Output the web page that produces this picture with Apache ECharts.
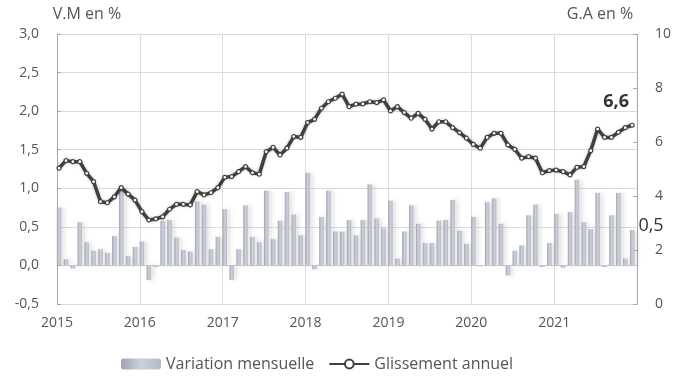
<!DOCTYPE html>
<html>
<head>
<meta charset="utf-8">
<script src="https://cdn.jsdelivr.net/npm/echarts@6/dist/echarts.min.js"></script>
<style>
  html, body { margin: 0; padding: 0; background: #fff; }
  #box { width: 696px; height: 378px; }
</style>
</head>
<body>
<div id="box"></div>
<script>
var chart = echarts.init(document.getElementById('box'));

// years shown on the x axis, 12 months each, Jan 2015 - Dec 2021
var years = ['2015', '2016', '2017', '2018', '2019', '2020', '2021'];

// Variation mensuelle (left axis, %)
var monthly = [
  0.75, 0.08, -0.04, 0.56, 0.30, 0.19, 0.21, 0.16, 0.38, 0.99, 0.12, 0.24,
  0.31, -0.19, -0.02, 0.58, 0.59, 0.36, 0.20, 0.18, 0.83, 0.79, 0.21, 0.37,
  0.73, -0.19, 0.21, 0.78, 0.37, 0.30, 0.97, 0.34, 0.58, 0.95, 0.66, 0.39,
  1.20, -0.05, 0.63, 0.97, 0.44, 0.44, 0.59, 0.39, 0.59, 1.05, 0.61, 0.48,
  0.84, 0.09, 0.44, 0.78, 0.54, 0.29, 0.29, 0.58, 0.59, 0.85, 0.45, 0.28,
  0.63, -0.01, 0.82, 0.87, 0.54, -0.13, 0.19, 0.26, 0.65, 0.79, -0.02, 0.29,
  0.67, -0.03, 0.69, 1.11, 0.56, 0.47, 0.94, -0.02, 0.65, 0.94, 0.09, 0.46
];

// Glissement annuel (right axis, %)
var annual = [
  5.03, 5.31, 5.27, 5.27, 4.84, 4.53, 3.79, 3.75, 3.97, 4.31, 4.07, 3.85,
  3.42, 3.11, 3.15, 3.23, 3.51, 3.69, 3.69, 3.67, 4.16, 4.04, 4.12, 4.31,
  4.69, 4.72, 4.90, 5.09, 4.86, 4.81, 5.64, 5.80, 5.52, 5.77, 6.20, 6.17,
  6.72, 6.84, 7.25, 7.49, 7.62, 7.77, 7.31, 7.40, 7.41, 7.49, 7.46, 7.56,
  7.15, 7.31, 7.09, 6.88, 7.06, 6.84, 6.48, 6.75, 6.75, 6.53, 6.35, 6.14,
  5.91, 5.77, 6.17, 6.32, 6.32, 5.89, 5.73, 5.40, 5.46, 5.40, 4.86, 4.94,
  4.96, 4.90, 4.78, 5.06, 5.09, 5.68, 6.48, 6.17, 6.17, 6.36, 6.53, 6.62
];

var months = years.length * 12;
var fontName = 'Open Sans';

function comma(v) {
  return v.toFixed(1).replace('.', ',');
}

var barData = monthly.map(function(v, i) {
  var item = { value: [i + 0.3, v] };
  if (i === monthly.length - 1) {
    item.label = {
      show: true, position: 'right', distance: 4, offset: [0, -22],
      formatter: function(p) { return comma(p.value[1]); },
      fontFamily: fontName, fontSize: 18, color: '#333'
    };
  }
  return item;
});

var lineData = annual.map(function(v, i) {
  var item = { value: [i + 0.3, v] };
  if (i === annual.length - 1) {
    item.label = {
      show: true, position: 'top', distance: 6, offset: [-16, -6],
      formatter: function(p) { return comma(p.value[1]); },
      fontFamily: fontName, fontSize: 18, fontWeight: 'bold', color: '#333'
    };
  }
  return item;
});

option = {
  animation: false,
  textStyle: { fontFamily: fontName },
  grid: {
    left: 57,
    right: 59,
    top: 34,
    bottom: 74
  },
  legend: {
    left: 116,
    top: 351,
    itemWidth: 40,
    itemHeight: 11,
    itemGap: 14,
    textStyle: { fontFamily: fontName, fontSize: 16, color: '#555' },
    data: ['Variation mensuelle', 'Glissement annuel']
  },
  xAxis: {
    type: 'value',
    min: 0,
    max: months,
    interval: 12,
    axisLine: { show: true, lineStyle: { color: '#cfcfcf' } },
    axisTick: { show: false },
    axisLabel: {
      margin: 12,
      fontSize: 14,
      color: '#555',
      formatter: function(v) {
        var k = Math.round(v / 12);
        return k < years.length ? years[k] : '';
      }
    },
    splitLine: { show: true, lineStyle: { color: '#dcdcdc' } }
  },
  yAxis: [{
    type: 'value',
    name: 'V.M en %',
    nameGap: 12,
    nameTextStyle: { fontSize: 16, color: '#555', padding: [0, 0, 0, 60] },
    min: -0.5,
    max: 3,
    interval: 0.5,
    axisLine: { show: true, lineStyle: { color: '#a8a8a8' } },
    axisTick: { show: true, inside: true, length: 4, lineStyle: { color: '#a8a8a8' } },
    axisLabel: { margin: 18, fontSize: 14, color: '#555', formatter: comma },
    splitLine: { show: true, lineStyle: { color: '#dcdcdc' } }
  }, {
    type: 'value',
    name: 'G.A en %',
    nameGap: 12,
    nameTextStyle: { fontSize: 16, color: '#555', padding: [0, 74, 0, 0] },
    min: 0,
    max: 10,
    interval: 2,
    axisLine: { show: true, lineStyle: { color: '#a8a8a8' } },
    axisTick: { show: true, inside: true, length: 4, lineStyle: { color: '#a8a8a8' } },
    axisLabel: { margin: 18, fontSize: 14, color: '#555' },
    splitLine: { show: false }
  }],
  series: [{
      name: 'Variation mensuelle',
      type: 'bar',
      yAxisIndex: 0,
      barWidth: 4.5,
      itemStyle: {
        color: new echarts.graphic.LinearGradient(0, 0, 1, 0, [
          { offset: 0, color: '#9da3b1' },
          { offset: 0.5, color: '#cdd1da' },
          { offset: 1, color: '#b4b9c5' }
        ]),
        shadowColor: 'rgba(0,0,0,0.12)',
        shadowBlur: 4,
        shadowOffsetX: 3
      },
      data: barData
    },
    {
      name: 'Glissement annuel',
      type: 'line',
      yAxisIndex: 1,
      symbol: 'circle',
      symbolSize: 4,
      lineStyle: {
        color: '#3f3f3f',
        width: 3.5,
        shadowColor: 'rgba(0,0,0,0.25)',
        shadowBlur: 3
      },
      itemStyle: { color: '#ffffff', borderColor: '#3f3f3f', borderWidth: 1.2 },
      z: 3,
      data: lineData
    }
  ]
};

chart.setOption(option);
</script>
</body>
</html>
